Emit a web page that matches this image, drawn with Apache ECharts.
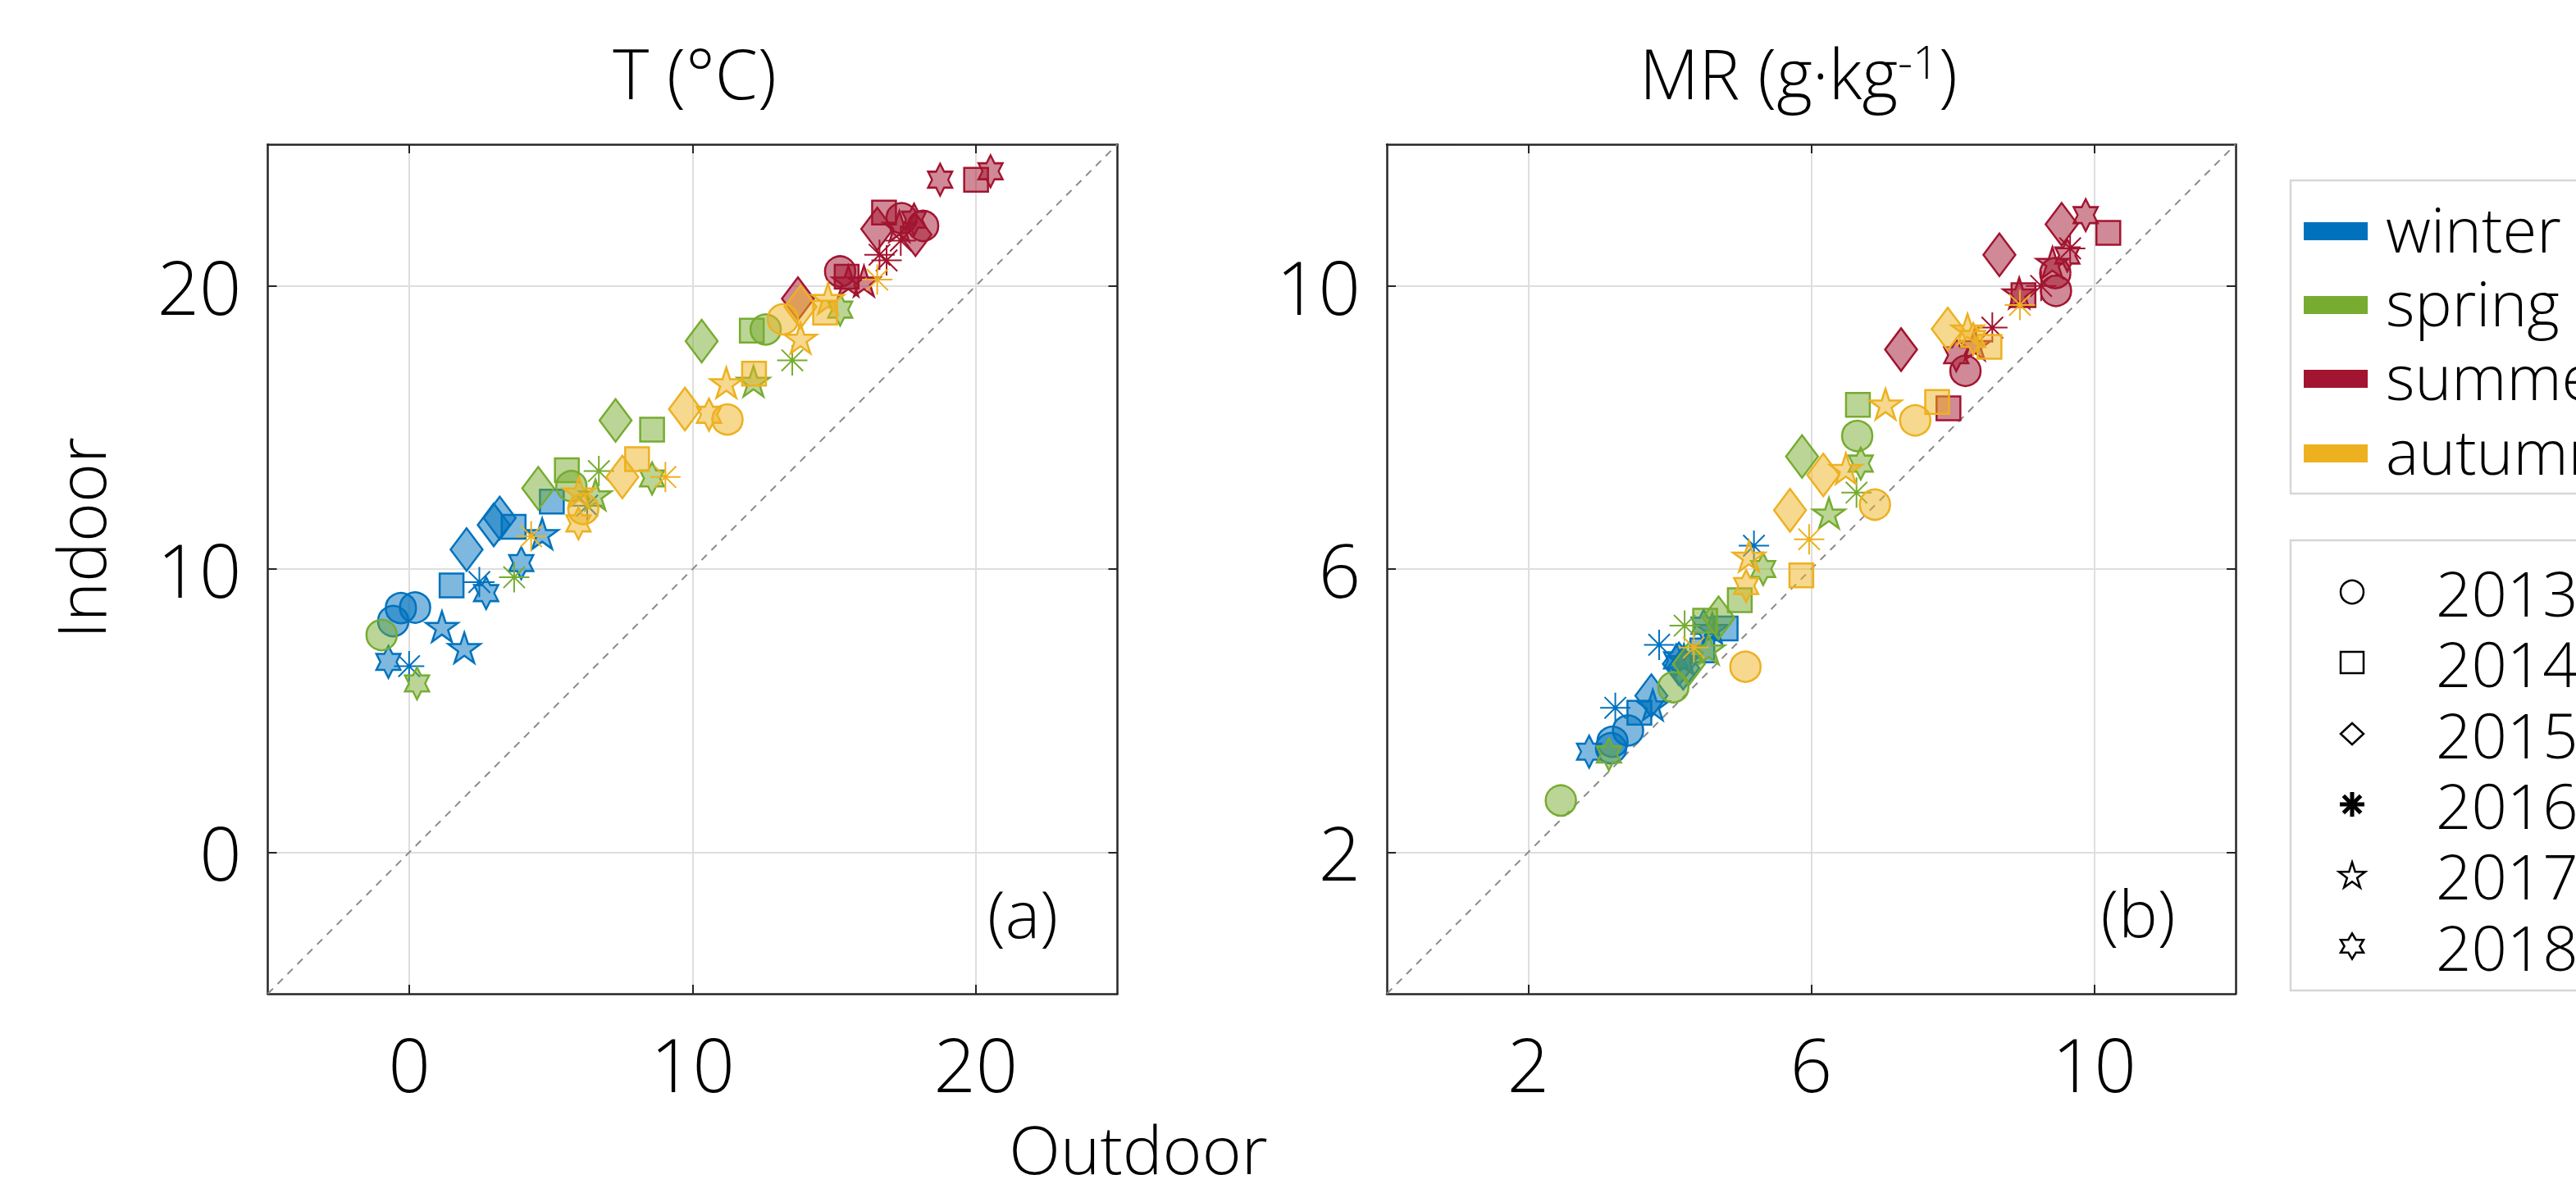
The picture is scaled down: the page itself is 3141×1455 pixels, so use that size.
<!DOCTYPE html>
<html><head><meta charset="utf-8">
<script src="https://cdn.jsdelivr.net/npm/echarts@6/dist/echarts.min.js"></script>
<style>html,body{margin:0;padding:0;background:#fff;}#c{width:3141px;height:1455px;}</style>
</head><body><div id="c"></div>
<script>
// ---------- categories & ticks ----------
const seasons = ['winter', 'spring', 'summer', 'autumn'];
const years = [2013, 2014, 2015, 2016, 2017, 2018];
const tRange = [-5, 25];
const tTicks = [0, 10, 20];
const mrRange = [0, 12];
const mrTicks = [2, 6, 10];

// ---------- panel (a) T (°C): [outdoor, indoor, year] ----------
const T_winter = [
  [-0.30, 8.62, 2013], [0.20, 8.64, 2013], [-0.57, 8.16, 2013],
  [1.49, 9.42, 2014], [3.68, 11.49, 2014], [5.03, 12.38, 2014],
  [2.02, 10.69, 2015], [2.98, 11.56, 2015], [3.19, 11.80, 2015],
  [-0.01, 6.57, 2016], [2.47, 9.54, 2016], [6.28, 12.24, 2016],
  [1.15, 7.97, 2017], [1.94, 7.22, 2017], [4.69, 11.25, 2017],
  [-0.74, 6.72, 2018], [2.71, 9.15, 2018], [3.95, 10.21, 2018]
];
const T_spring = [
  [-0.98, 7.67, 2013], [5.72, 12.93, 2013], [12.58, 18.46, 2013],
  [5.56, 13.49, 2014], [8.57, 14.92, 2014], [12.09, 18.42, 2014],
  [4.55, 12.85, 2015], [7.28, 15.25, 2015], [10.32, 18.05, 2015],
  [3.70, 9.71, 2016], [6.69, 13.46, 2016], [13.52, 17.37, 2016],
  [6.57, 12.62, 2017], [12.15, 16.63, 2017],
  [0.27, 5.96, 2018], [8.57, 13.20, 2018], [15.21, 19.16, 2018]
];
const T_summer = [
  [15.21, 20.51, 2013], [17.38, 22.39, 2013], [18.14, 22.12, 2013],
  [15.44, 20.32, 2014], [16.76, 22.59, 2014], [20.01, 23.75, 2014],
  [13.72, 19.55, 2015], [16.52, 22.01, 2015], [17.87, 21.81, 2015],
  [16.60, 21.10, 2016], [16.85, 20.90, 2016], [17.35, 21.60, 2016],
  [15.50, 20.17, 2017], [16.05, 20.17, 2017], [17.30, 22.10, 2017],
  [17.82, 22.34, 2018], [18.74, 23.75, 2018], [20.52, 24.05, 2018]
];
const T_autumn = [
  [6.14, 12.12, 2013], [11.23, 15.28, 2013], [13.19, 18.82, 2013],
  [8.04, 13.88, 2014], [12.17, 16.90, 2014], [14.68, 19.06, 2014],
  [7.52, 13.25, 2015], [9.73, 15.65, 2015], [13.81, 19.26, 2015],
  [4.30, 11.16, 2016], [9.04, 13.25, 2016], [16.52, 20.22, 2016],
  [5.99, 12.72, 2017], [11.19, 16.58, 2017], [13.81, 18.15, 2017], [14.78, 19.55, 2017],
  [5.97, 11.61, 2018], [10.58, 15.45, 2018]
];

// ---------- panel (b) MR (g/kg): [outdoor, indoor, year] ----------
const MR_winter = [
  [3.17, 3.47, 2013], [3.19, 3.56, 2013], [3.41, 3.72, 2013],
  [3.57, 3.97, 2014], [4.46, 4.85, 2014], [4.79, 5.16, 2014],
  [3.74, 4.21, 2015], [4.13, 4.66, 2015], [4.19, 4.60, 2015],
  [3.23, 4.04, 2016], [3.85, 4.93, 2016], [5.19, 6.33, 2016],
  [3.76, 4.08, 2017], [4.20, 4.72, 2017], [4.60, 5.16, 2017],
  [2.86, 3.42, 2018], [4.09, 4.71, 2018], [4.48, 5.20, 2018]
];
const MR_spring = [
  [2.46, 2.73, 2013], [4.05, 4.33, 2013], [6.65, 7.88, 2013],
  [4.50, 5.27, 2014], [4.99, 5.56, 2014], [6.66, 8.32, 2014],
  [4.27, 4.66, 2015], [4.69, 5.31, 2015], [5.87, 7.59, 2015],
  [4.21, 5.20, 2016], [6.64, 7.08, 2016],
  [4.55, 4.87, 2017], [6.25, 6.79, 2017],
  [3.14, 3.38, 2018], [5.32, 6.00, 2018], [6.70, 7.49, 2018]
];
const MR_summer = [
  [8.18, 8.80, 2013], [9.45, 10.18, 2013], [9.46, 9.93, 2013],
  [7.94, 8.27, 2014], [9.00, 9.87, 2014], [10.20, 10.75, 2014],
  [7.27, 9.10, 2015], [8.66, 10.44, 2015], [9.54, 10.87, 2015],
  [8.56, 9.41, 2016], [9.25, 10.00, 2016], [9.66, 10.53, 2016],
  [8.31, 9.17, 2017], [8.94, 9.90, 2017], [9.41, 10.33, 2017],
  [8.05, 9.02, 2018], [9.62, 10.43, 2018], [9.88, 11.00, 2018]
];
const MR_autumn = [
  [5.07, 4.62, 2013], [6.90, 6.91, 2013], [7.47, 8.10, 2013],
  [5.86, 5.91, 2014], [7.78, 8.36, 2014], [8.52, 9.14, 2014],
  [5.70, 6.83, 2015], [6.17, 7.33, 2015], [7.93, 9.39, 2015],
  [4.34, 4.89, 2016], [5.97, 6.42, 2016], [8.95, 9.73, 2016],
  [5.12, 6.18, 2017], [6.49, 7.42, 2017], [7.05, 8.33, 2017], [8.21, 9.39, 2017],
  [5.08, 5.76, 2018], [8.29, 9.25, 2018]
];

// ---------- styles ----------
const F = "'Open Sans', 'Noto Sans', sans-serif";
const FW = 300;
const seasonColors = { winter: '#0072BD', spring: '#77AC30', summer: '#A2142F', autumn: '#EDB120' };
function hexA(hex, a) { const n = parseInt(hex.slice(1), 16); return 'rgba(' + (n >> 16 & 255) + ',' + (n >> 8 & 255) + ',' + (n & 255) + ',' + a + ')'; }
function starPts(n, inner) {
  const p = [];
  for (let i = 0; i < 2 * n; i++) {
    const r = i % 2 ? inner : 1, a = -Math.PI / 2 + i * Math.PI / n;
    p.push([r * Math.cos(a), r * Math.sin(a)]);
  }
  return p;
}
function toPath(pts) { return 'M' + pts.map(q => q[0].toFixed(4) + ',' + q[1].toFixed(4)).join('L') + 'Z'; }
const PENT_P = starPts(5, 0.382), HEXA_P = starPts(6, 0.57735);
const DIAM_P = [[0, -1], [1, 0], [0, 1], [-1, 0]];
const AST = 'M0,-1L0,1M-1,0L1,0M-0.7071,-0.7071L0.7071,0.7071M-0.7071,0.7071L0.7071,-0.7071';
const marker = {
  2013: { symbol: 'circle', size: 37 },
  2014: { symbol: 'rect', size: 29 },
  2015: { symbol: 'diamond', size: [39, 52] },
  2016: { symbol: 'path://' + AST, size: 37, line: true },
  2017: { symbol: 'path://' + toPath(PENT_P), size: 39 },
  2018: { symbol: 'path://' + toPath(HEXA_P), size: [34, 39] }
};

const G = [
  { left: 326.5, top: 176, width: 1036, height: 1036 },
  { left: 1691, top: 176, width: 1035, height: 1036 }
];

function xAx(gi, range, ticks, pos, main) {
  return {
    type: 'value', gridIndex: gi, position: pos, min: range[0], max: range[1],
    axisLine: { show: true, onZero: false, lineStyle: { color: '#262626', width: 2.5 } },
    axisTick: { show: true, inside: true, length: 11, customValues: ticks, lineStyle: { color: '#262626', width: 2 } },
    axisLabel: { show: main, customValues: ticks, margin: 40, fontSize: 90, fontFamily: F, fontWeight: FW, color: '#000' },
    splitLine: { show: main, lineStyle: { color: '#dedede', width: 2 } }
  };
}
function yAx(gi, range, ticks, pos, main) {
  const a = xAx(gi, range, ticks, pos, main);
  a.axisLabel.margin = 32;
  return a;
}

const series = [];
function addPanel(bySeason, ai, range) {
  series.push({
    type: 'line', xAxisIndex: ai, yAxisIndex: ai, silent: true, z: 1,
    data: [[range[0], range[0]], [range[1], range[1]]],
    symbol: 'none', lineStyle: { color: '#8a8a8a', width: 2, type: [9, 8] }
  });
  seasons.forEach(s => {
    years.forEach(y => {
      const pts = bySeason[s].filter(d => d[2] === y).map(d => [d[0], d[1]]);
      if (!pts.length) return;
      const m = marker[y], c = seasonColors[s];
      series.push({
        type: 'scatter', xAxisIndex: ai, yAxisIndex: ai, silent: true, z: 3,
        data: pts, symbol: m.symbol, symbolSize: m.size, symbolKeepAspect: true,
        itemStyle: { color: m.line ? 'rgba(0,0,0,0)' : hexA(c, 0.5), borderColor: c, borderWidth: m.line ? 2 : 2.5, opacity: 1 }
      });
    });
  });
}
addPanel({ winter: T_winter, spring: T_spring, summer: T_summer, autumn: T_autumn }, 0, tRange);
addPanel({ winter: MR_winter, spring: MR_spring, summer: MR_summer, autumn: MR_autumn }, 2, mrRange);

// ---------- texts & legends ----------
function txt(x, y, text, size, extra) {
  return Object.assign({
    type: 'text', x: x, y: y, z: 10,
    style: { text: text, fontSize: size, fontFamily: F, fontWeight: FW, fill: '#000',
      textAlign: 'center', textVerticalAlign: 'middle', align: 'center', verticalAlign: 'middle' }
  }, extra || {});
}
const graphics = [];
graphics.push(txt(847, 88, 'T (°C)', 84));
const mrTitle = txt(2193, 88, 'MR (g·kg{sup|-1})', 84);
mrTitle.style.rich = { sup: { fontSize: 56, lineHeight: 46, verticalAlign: 'top', fontFamily: F, fontWeight: FW, fill: '#000' } };
graphics.push(mrTitle);
const outT = txt(1388, 1400, 'Outdoor', 82);
outT.style.lineHeight = 80;
graphics.push(outT);
graphics.push(txt(97, 656, 'Indoor', 82, { rotation: Math.PI / 2 }));
graphics.push(txt(1247, 1112, '(a)', 80));
graphics.push(txt(2607, 1111, '(b)', 80));

function leftText(x, y, s) {
  const t = txt(x, y, s, 76);
  t.style.textAlign = 'left'; t.style.align = 'left'; t.style.lineHeight = 78;
  return t;
}
function scalePts(pts, cx, cy, w, h) {
  let x0 = Infinity, x1 = -Infinity, y0 = Infinity, y1 = -Infinity;
  pts.forEach(q => { x0 = Math.min(x0, q[0]); x1 = Math.max(x1, q[0]); y0 = Math.min(y0, q[1]); y1 = Math.max(y1, q[1]); });
  return pts.map(q => [cx + (q[0] - (x0 + x1) / 2) / (x1 - x0) * w, cy + (q[1] - (y0 + y1) / 2) / (y1 - y0) * h]);
}

// season legend
graphics.push({ type: 'rect', z: 9, shape: { x: 2793, y: 220, width: 420, height: 382 }, style: { fill: '#fff', stroke: '#d6d6d6', lineWidth: 2.5 } });
const seasonRowY = [282, 372, 462, 553];
seasons.forEach((s, i) => {
  graphics.push({ type: 'rect', z: 10, shape: { x: 2809, y: seasonRowY[i] - 11, width: 78, height: 22 }, style: { fill: seasonColors[s] } });
  graphics.push(leftText(2909, seasonRowY[i] - 4, s));
});
// year legend
graphics.push({ type: 'rect', z: 9, shape: { x: 2793, y: 659, width: 420, height: 549 }, style: { fill: '#fff', stroke: '#d6d6d6', lineWidth: 2.5 } });
const yearRowY = [722, 808, 895, 981, 1067, 1154];
years.forEach((y, i) => {
  const cy = yearRowY[i], cx = 2868;
  const st = { fill: 'none', stroke: '#000', lineWidth: 2.5 };
  if (y === 2013) {
    graphics.push({ type: 'circle', z: 10, shape: { cx: cx, cy: cy, r: 14 }, style: st });
  } else if (y === 2014) {
    graphics.push({ type: 'rect', z: 10, shape: { x: cx - 14, y: cy - 13, width: 28, height: 26 }, style: st });
  } else if (y === 2016) {
    [[0, -1, 0, 1], [-1, 0, 1, 0], [-0.7071, -0.7071, 0.7071, 0.7071], [-0.7071, 0.7071, 0.7071, -0.7071]].forEach(l => {
      graphics.push({ type: 'line', z: 10, shape: { x1: cx + l[0] * 15, y1: cy + l[1] * 15, x2: cx + l[2] * 15, y2: cy + l[3] * 15 }, style: { stroke: '#000', lineWidth: 5 } });
    });
  } else {
    const def = { 2015: [DIAM_P, 28, 26], 2017: [PENT_P, 32, 31], 2018: [HEXA_P, 28, 31] }[y];
    graphics.push({ type: 'polygon', z: 10, shape: { points: scalePts(def[0], cx, cy, def[1], def[2]) }, style: st });
  }
  graphics.push(leftText(2970, cy, String(y)));
});

const chart = echarts.init(document.getElementById('c'), null, { renderer: 'svg', width: 3141, height: 1455 });
chart.setOption({
  animation: false,
  backgroundColor: '#fff',
  grid: G.map(g => Object.assign({ outerBoundsMode: 'none', containLabel: false }, g)),
  xAxis: [
    xAx(0, tRange, tTicks, 'bottom', true), xAx(0, tRange, tTicks, 'top', false),
    xAx(1, mrRange, mrTicks, 'bottom', true), xAx(1, mrRange, mrTicks, 'top', false)
  ],
  yAxis: [
    yAx(0, tRange, tTicks, 'left', true), yAx(0, tRange, tTicks, 'right', false),
    yAx(1, mrRange, mrTicks, 'left', true), yAx(1, mrRange, mrTicks, 'right', false)
  ],
  series: series,
  graphic: { elements: graphics }
});
</script></body></html>
